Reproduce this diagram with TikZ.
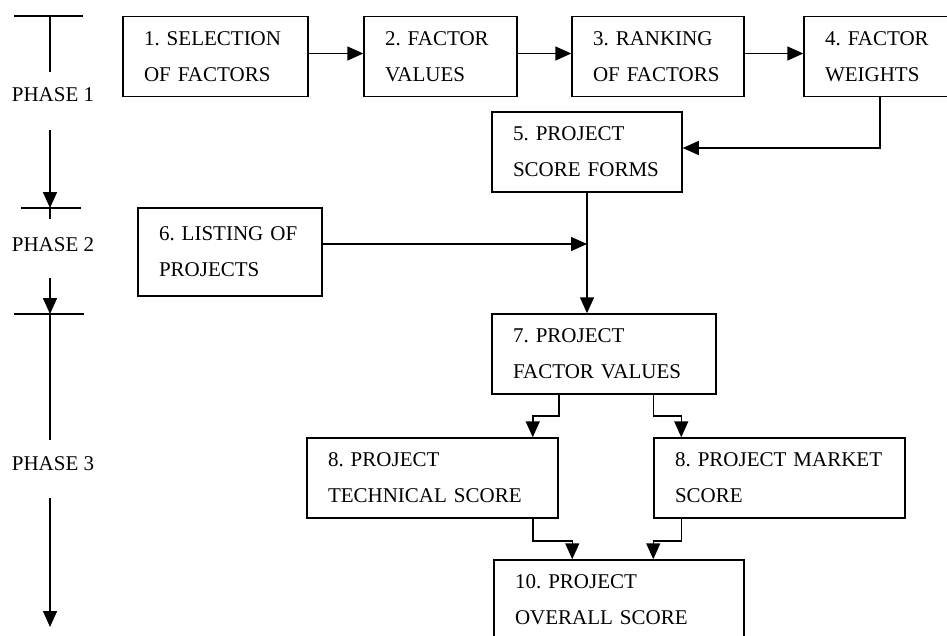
\documentclass[tikz,border=0pt]{standalone}
\usepackage{fontspec}
\setmainfont{Liberation Serif}
\usetikzlibrary{arrows.meta}
\frenchspacing
\hyphenpenalty=10000
\exhyphenpenalty=10000
\tikzstyle{stage} = [rectangle, draw, line width=1.5pt, align=left, inner xsep=21pt, inner ysep=0pt, minimum height=80pt, font=\fontsize{21}{36}\selectfont]
\tikzstyle{rule} = [draw, line width=1.5pt]
\tikzstyle{flow} = [rule, -{Triangle[length=16pt,width=14pt]}]
\tikzstyle{phase} = [font=\fontsize{21}{36}\selectfont]
\begin{document}
\begin{tikzpicture}[x=1pt,y=-1pt]
                    \useasboundingbox (0,0) rectangle (947,635);
                    \clip (0,0) rectangle (947,635);
                    % phase axis
                    \node[phase] (phaseone) at (53,95) {PHASE 1};
                    \node[phase] (phasetwo) at (53,245) {PHASE 2};
                    \node[phase] (phasethree) at (53,464) {PHASE 3};
                    \coordinate (startone) at (50,16);
                    \coordinate (endone) at (50,208);
                    \coordinate (endtwo) at (50,314);
                    \draw[rule] (14,16) -- (83,16);
                    \draw[rule] (21,208) -- (81,208);
                    \draw[rule] (14,314) -- (84,314);
                    \draw[rule] (startone) -- (50,72);
                    \draw[flow] (50,130) -- (endone);
                    \draw[rule] (endone) -- (50,219);
                    \draw[flow] (50,278) -- (endtwo);
                    \draw[rule] (endtwo) -- (50,440);
                    \draw[flow] (50,498) -- (50,627);

                    % phase 1
                    \node[stage, text width=143pt] (selection) at (215.5,56.5) {1. SELECTION\\OF FACTORS};
                    \node[stage, text width=111pt] (values) at (440.5,56.5) {2. FACTOR\\VALUES};
                    \node[stage, text width=130pt] (ranking) at (658,56.5) {3. RANKING\\OF FACTORS};
                    \node[stage, text width=110pt] (weights) at (880,56.5) {4. FACTOR\\WEIGHTS};
                    \node[stage, text width=148pt] (forms) at (587,152) {5. PROJECT\\SCORE FORMS};
                    \draw[flow] ([yshift=3pt]selection.east) -- ([yshift=3pt]values.west);
                    \draw[flow] ([yshift=3pt]values.east) -- ([yshift=3pt]ranking.west);
                    \draw[flow] ([yshift=3pt]ranking.east) -- ([yshift=3pt]weights.west);
                    \draw[flow] (weights.south) |- ([yshift=4pt]forms.east);

                    % phase 2
                    \node[stage, text width=142pt, minimum height=88pt] (listing) at (230,252) {6. LISTING OF\\PROJECTS};
                    \node[stage, text width=182pt] (projvalues) at (604,354) {7. PROJECT\\FACTOR VALUES};
                    \draw[flow] (forms.south) -- (forms.south |- projvalues.north);
                    \draw[flow] ([yshift=8pt]listing.east) -- ([yshift=8pt]listing.east -| forms.south);

                    % phase 3
                    \node[stage, text width=209pt] (technical) at (432.5,478) {8. PROJECT\\TECHNICAL SCORE};
                    \node[stage, text width=209pt] (market) at (779.5,478) {8. PROJECT MARKET\\SCORE};
                    \node[stage, text width=208pt] (overall) at (619,600) {10. PROJECT\\OVERALL SCORE};
                    \draw[flow] (projvalues.south -| technical.east) -- ++(0,21) -| ([xshift=-26pt]technical.north east);
                    \draw[flow] (projvalues.south -| market.west) -- ++(0,21) -| ([xshift=28pt]market.north west);
                    \draw[flow] ([xshift=-26pt]technical.south east) -- ++(0,22) -| ([xshift=79pt]overall.north west);
                    \draw[flow] ([xshift=28pt]market.south west) -- ++(0,22) -| (overall.north -| market.west);
                \end{tikzpicture}
\end{document}
